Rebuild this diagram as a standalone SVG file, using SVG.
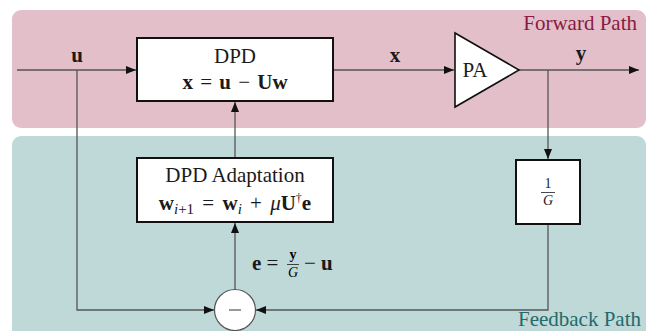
<svg xmlns="http://www.w3.org/2000/svg" width="647" height="331" viewBox="0 0 647 331">
<style>
.serif{font-family:"Liberation Serif","Times New Roman",serif;}
.lbl{font-family:"Liberation Serif","Times New Roman",serif;font-size:21px;fill:#1a1a1a;}
.b{font-weight:bold;}
.box{fill:#ffffff;stroke:#111;stroke-width:2;}
.conn{fill:none;stroke:#555;stroke-width:1.3;}
</style>
<defs>
<marker id="arr" viewBox="0 0 10 8" refX="10" refY="4" markerWidth="10" markerHeight="8" markerUnits="userSpaceOnUse" orient="auto">
<path d="M0,0 L10,4 L0,8 z" fill="#111"/>
</marker>
</defs>
<g id="regions">
<rect x="12" y="10" width="634" height="118" rx="9" fill="#e3bfca"/>
<rect x="12" y="136" width="634" height="205" rx="9" fill="#bfd8d8"/>
<text class="serif" x="637" y="30" font-size="21" text-anchor="end" fill="#8a1a40">Forward Path</text>
<text class="serif" x="641" y="326" font-size="21" text-anchor="end" fill="#1f6b6b">Feedback Path</text>
</g>
<g id="connectors">
<path class="conn" d="M17,70 H136" marker-end="url(#arr)"/>
<path class="conn" d="M77,70 V310 H214" marker-end="url(#arr)"/>
<path class="conn" d="M334,70 H454" marker-end="url(#arr)"/>
<path class="conn" d="M519,70 H639" marker-end="url(#arr)"/>
<path class="conn" d="M548,70 V159" marker-end="url(#arr)"/>
<path class="conn" d="M548,224 V310 H256" marker-end="url(#arr)"/>
<path class="conn" d="M235,290 V223" marker-end="url(#arr)"/>
<path class="conn" d="M235,158 V102" marker-end="url(#arr)"/>
<text class="lbl b" x="77" y="62" text-anchor="middle">u</text>
<text class="lbl b" x="395" y="62" text-anchor="middle">x</text>
<text class="lbl b" x="581" y="60" text-anchor="middle">y</text>
<g id="e-label">
<text class="lbl" x="252" y="270"><tspan class="b">e</tspan> =</text>
<text class="serif b" x="293" y="259" font-size="14" text-anchor="middle">y</text>
<line x1="287" y1="264.5" x2="299" y2="264.5" stroke="#1a1a1a" stroke-width="0.8"/>
<text class="serif" x="293" y="277" font-size="14" font-style="italic" text-anchor="middle">G</text>
<text class="lbl" x="304" y="270">− <tspan class="b">u</tspan></text>
</g>
</g>
<g id="dpd">
<rect class="box" x="137" y="38" width="196" height="63"/>
<text class="lbl" x="235" y="63" text-anchor="middle" font-size="22">DPD</text>
<text class="lbl" x="235" y="89" text-anchor="middle" font-size="22" word-spacing="2"><tspan class="b">x</tspan> = <tspan class="b">u</tspan> − <tspan class="b">Uw</tspan></text>
</g>
<g id="pa">
<path d="M455,33 L519,70 L455,107 z" fill="#fff" stroke="#111" stroke-width="1.6"/>
<text class="lbl" x="475" y="77" text-anchor="middle">PA</text>
</g>
<g id="adaptation">
<rect class="box" x="137" y="158" width="196" height="64"/>
<text class="lbl" x="235" y="182" text-anchor="middle" font-size="22">DPD Adaptation</text>
<text class="lbl" x="235" y="210" text-anchor="middle" font-size="22" word-spacing="3"><tspan class="b">w</tspan><tspan font-size="15" font-style="italic" dy="4">i</tspan><tspan font-size="15">+1</tspan><tspan dy="-4"> = </tspan><tspan class="b">w</tspan><tspan font-size="15" font-style="italic" dy="4">i</tspan><tspan dy="-4"> + </tspan><tspan font-style="italic">μ</tspan><tspan class="b">U</tspan><tspan font-size="12" dy="-8">†</tspan><tspan class="b" dy="8">e</tspan></text>
</g>
<g id="gain">
<rect class="box" x="516" y="160" width="64" height="64"/>
<text class="serif" x="548" y="188" font-size="14" text-anchor="middle" fill="#1a1a1a">1</text>
<line x1="541" y1="192.5" x2="555" y2="192.5" stroke="#1a1a1a" stroke-width="0.8"/>
<text class="serif" x="548" y="205" font-size="14" font-style="italic" text-anchor="middle" fill="#1a1a1a">G</text>
</g>
<g id="sum">
<circle cx="235" cy="310" r="20.5" fill="#fff" stroke="#555" stroke-width="1.2"/>
<line x1="229" y1="310" x2="241" y2="310" stroke="#555" stroke-width="1.2"/>
</g>
</svg>
